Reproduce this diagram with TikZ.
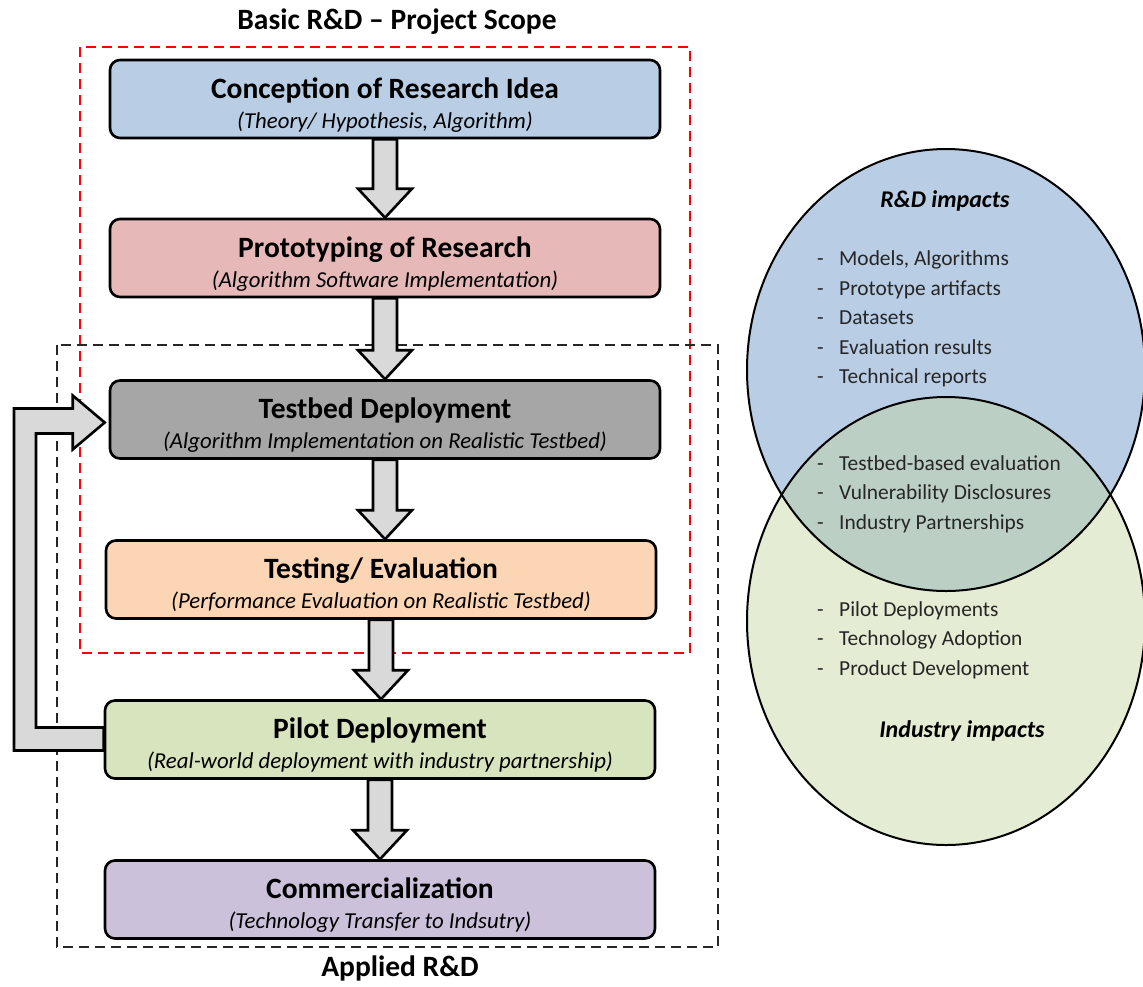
\documentclass[tikz,border=0pt]{standalone}
\usepackage{fontspec}
\setmainfont{Carlito}
\usetikzlibrary{calc, positioning}

\definecolor{ideablue}{HTML}{B9CDE5}
\definecolor{protopink}{HTML}{E6B9B8}
\definecolor{testgray}{HTML}{A6A6A6}
\definecolor{evalpeach}{HTML}{FCD5B5}
\definecolor{pilotgreen}{HTML}{D7E4BD}
\definecolor{commpurple}{HTML}{CCC1DA}
\definecolor{arrowgray}{HTML}{D9D9D9}
\definecolor{rdblue}{HTML}{B9CDE5}
\definecolor{indgreen}{HTML}{E4ECD3}
\definecolor{lensgreen}{HTML}{BCCFC4}
\definecolor{listink}{HTML}{262626}

\newcommand{\stagetitle}[1]{{\fontsize{29.5}{33}\selectfont\bfseries\rule{0pt}{32pt}#1}}
\newcommand{\stagenote}[1]{{\itshape #1}}
\newcommand{\impitem}[1]{\makebox[22pt][l]{-}#1}
\newcommand{\stagearrow}[2]{%
  \draw[blockarrow] ($(#1.south)+(-12,0)$) -- ($(#1.south |- #2.north)+(-12,-29)$)
    -- ($(#1.south |- #2.north)+(-27,-29)$) -- (#1.south |- #2.north)
    -- ($(#1.south |- #2.north)+(27,-29)$) -- ($(#1.south |- #2.north)+(12,-29)$)
    -- ($(#1.south)+(12,0)$) -- cycle;}

\begin{document}
\begin{tikzpicture}[x=1pt, y=-1pt,
    stage/.style={draw, line width=2.6pt, rounded corners=10pt, minimum width=550pt,
      minimum height=78pt, align=center, inner sep=0pt, font=\fontsize{22.8}{30}\selectfont},
    blockarrow/.style={draw, fill=arrowgray, line width=2.6pt, line join=miter},
    scopebox/.style={line width=2.6pt, dash pattern=on 10pt off 6pt},
    scopetitle/.style={font=\fontsize{29.5}{33}\selectfont\bfseries},
    impactlist/.style={align=left, anchor=west, inner sep=0pt, text=listink,
      font=\fontsize{21.4}{29.5}\selectfont},
    impacthead/.style={font=\fontsize{24}{28}\selectfont\bfseries\itshape}]
    \useasboundingbox (0,0) rectangle (1143,986);

    % Scopes
    \draw[scopebox, red] (80,47) rectangle (690,653);
    \draw[scopebox, black!85] (57,345) rectangle (718,947);
    \node[scopetitle] (basictitle) at (397,22) {Basic R\&D -- Project Scope};
    \node[scopetitle] (appliedtitle) at (400,968) {Applied R\&D};

    % Stages
    \node[stage, fill=ideablue] (idea) at (385,99)
      {\stagetitle{Conception of Research Idea}\\\stagenote{(Theory/ Hypothesis, Algorithm)}};
    \node[stage, fill=protopink] (proto) at (385,258)
      {\stagetitle{Prototyping of Research}\\\stagenote{(Algorithm Software Implementation)}};
    \node[stage, fill=testgray] (testbed) at (385,419.5)
      {\stagetitle{Testbed Deployment}\\\stagenote{(Algorithm Implementation on Realistic Testbed)}};
    \node[stage, fill=evalpeach] (evaluation) at (381,579.5)
      {\stagetitle{Testing/ Evaluation}\\\stagenote{(Performance Evaluation on Realistic Testbed)}};
    \node[stage, fill=pilotgreen] (pilot) at (380,739.5)
      {\stagetitle{Pilot Deployment}\\\stagenote{(Real-world deployment with industry partnership)}};
    \node[stage, fill=commpurple] (commerce) at (380,899.5)
      {\stagetitle{Commercialization}\\\stagenote{(Technology Transfer to Indsutry)}};

    % Flow
    \foreach \a/\b in {idea/proto, proto/testbed, testbed/evaluation, evaluation/pilot, pilot/commerce}
      \stagearrow{\a}{\b};

    % Feedback from pilot to testbed
    \coordinate (loop) at (25,0);
    \draw[blockarrow] ($(pilot.west)+(0,-12)$) -- ($(loop |- pilot.west)+(11,-12)$)
      -- ($(loop |- testbed.west)+(11,14)$) -- ($(testbed.west)+(-36,14)$)
      -- ($(testbed.west)+(-36,30)$) -- ($(testbed.west)+(-4,3)$)
      -- ($(testbed.west)+(-36,-24)$) -- ($(testbed.west)+(-36,-11)$)
      -- ($(loop |- testbed.west)+(-11,-11)$) -- ($(loop |- pilot.west)+(-11,11)$)
      -- ($(pilot.west)+(0,11)$) -- cycle;

    % Impacts
    \fill[rdblue] (946,370) ellipse [x radius=199pt, y radius=221pt];
    \fill[indgreen] (946,621) ellipse [x radius=199pt, y radius=224pt];
    \begin{scope}
      \clip (946,370) ellipse [x radius=199pt, y radius=221pt];
      \fill[lensgreen] (946,621) ellipse [x radius=199pt, y radius=224pt];
    \end{scope}
    \draw[line width=2pt] (946,370) ellipse [x radius=199pt, y radius=221pt];
    \draw[line width=2pt] (946,621) ellipse [x radius=199pt, y radius=224pt];

    \node[impacthead] (rdhead) at (945,201) {R\&D impacts};
    \node[impactlist] (rdlist) at (817,319)
      {\impitem{Models, Algorithms}\\\impitem{Prototype artifacts}\\\impitem{Datasets}\\
       \impitem{Evaluation results}\\\impitem{Technical reports}};
    \node[impactlist] (sharedlist) at (817,494)
      {\impitem{Testbed-based evaluation}\\\impitem{Vulnerability Disclosures}\\
       \impitem{Industry Partnerships}};
    \node[impactlist] (industrylist) at (817,640)
      {\impitem{Pilot Deployments}\\\impitem{Technology Adoption}\\\impitem{Product Development}};
    \node[impacthead] (industryhead) at (962,731) {Industry impacts};
\end{tikzpicture}
\end{document}
